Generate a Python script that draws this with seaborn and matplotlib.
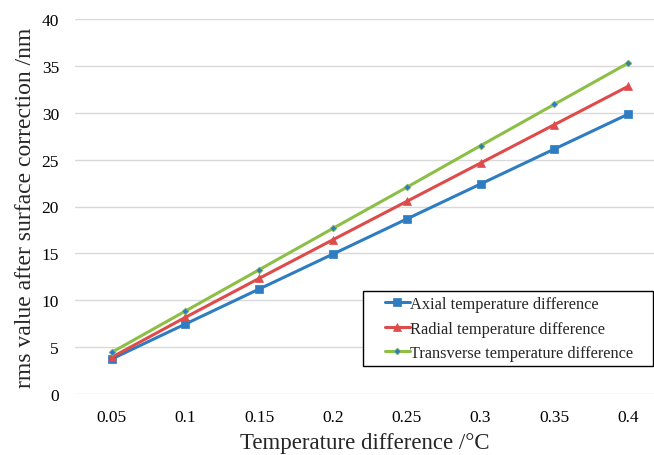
import matplotlib
matplotlib.use("Agg")
import matplotlib.pyplot as plt
from matplotlib.legend_handler import HandlerLine2D
import seaborn as sns
import pandas as pd

categories = ["0.05", "0.1", "0.15", "0.2", "0.25", "0.3", "0.35", "0.4"]
axial = [3.73, 7.47, 11.2, 14.93, 18.67, 22.4, 26.13, 29.85]
radial = [3.91, 8.18, 12.34, 16.46, 20.55, 24.64, 28.73, 32.82]
transverse = [4.44, 8.85, 13.26, 17.67, 22.05, 26.49, 30.9, 35.3]
series_names = ["Axial temperature difference",
                "Radial temperature difference",
                "Transverse temperature difference"]

rows = []
for name, vals in zip(series_names, [axial, radial, transverse]):
    for c, v in zip(categories, vals):
        rows.append({"cat": c, "val": v, "series": name})
df = pd.DataFrame(rows)

sns.set_style("white")
plt.rcParams["font.family"] = ["Liberation Serif", "DejaVu Serif"]

W, H = 654, 456
fig = plt.figure(figsize=(W / 100, H / 100), dpi=100)
ax_left, ax_right, ax_top, ax_bottom = 75, 654, 20, 395
ax = fig.add_axes([ax_left / W, 1 - ax_bottom / H, (ax_right - ax_left) / W, (ax_bottom - ax_top) / H])

palette = {series_names[0]: "#2E7CC1", series_names[1]: "#DE4B4B", series_names[2]: "#8CBF45"}
markers = {series_names[0]: "s", series_names[1]: "^", series_names[2]: "D"}
sizes = {series_names[0]: 6, series_names[1]: 6, series_names[2]: 3.5}

for name in series_names:
    sub = df[df["series"] == name]
    sns.lineplot(data=sub, x="cat", y="val", ax=ax, color=palette[name],
                 linewidth=2.2, marker=markers[name], markersize=sizes[name],
                 markeredgewidth=0.5,
                 markerfacecolor=("#2E7CC1" if name == series_names[2] else palette[name]),
                 markeredgecolor=palette[name], label=name, sort=False)

ax.set_xlim(-0.497, 7.35)
ax.set_ylim(0, 40)
ax.set_yticks(range(0, 41, 5))
ax.grid(axis="y", color="#D9D9D9", linewidth=1)
ax.set_axisbelow(True)
for s in ax.spines.values():
    s.set_visible(False)
ax.tick_params(axis="both", length=0, labelsize=12.5, colors="#000000")
ax.tick_params(axis="x", pad=11)
ax.tick_params(axis="y", pad=11.5)
ax.set_xlabel("Temperature difference /\u00b0C", fontsize=16.5, labelpad=5)
ax.set_ylabel("rms value after surface correction /nm", fontsize=17, labelpad=4)

aw = ax_right - ax_left
leg_x0 = (363 - ax_left) / aw
leg_y0 = (ax_bottom - 367) / (ax_bottom - ax_top)
handles, labels = ax.get_legend_handles_labels()
leg = ax.legend(handles, labels, loc="lower left",
                bbox_to_anchor=(leg_x0, leg_y0, 1.0 - leg_x0 - 0.002, 0.0),
                mode="expand", fontsize=11.8,
                frameon=True, fancybox=False, edgecolor="black", framealpha=1,
                handlelength=2.56, handletextpad=0.0, borderpad=0.3,
                labelspacing=0.52, borderaxespad=0,
                handler_map={h: HandlerLine2D(xpad=1.04) for h in handles})
leg.get_frame().set_linewidth(1.0)

fig.savefig("out.png", dpi=100)
